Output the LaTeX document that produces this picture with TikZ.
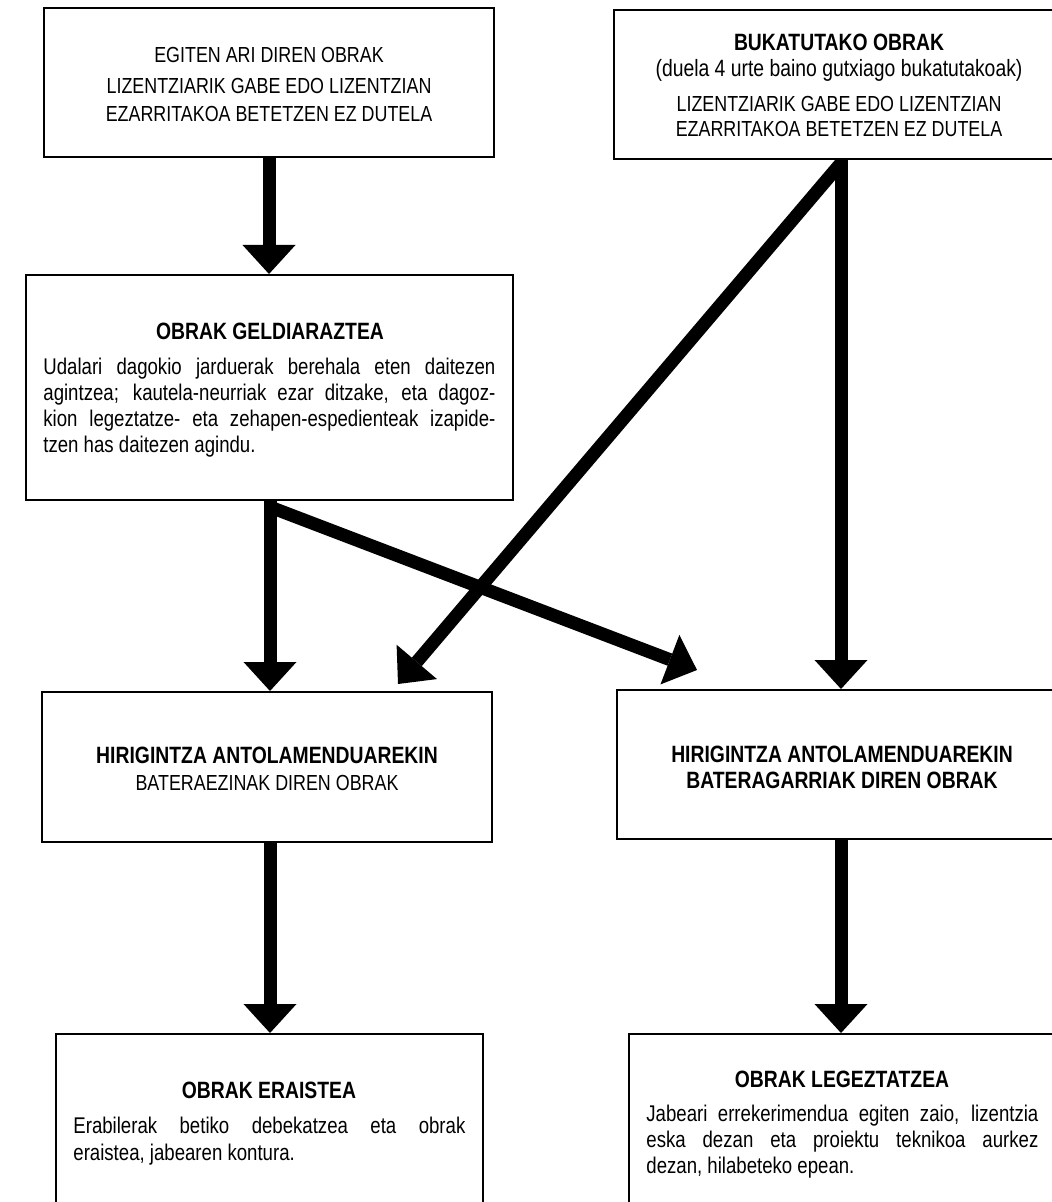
\documentclass[tikz,border=0pt]{standalone}
\usepackage{fontspec}
\setmainfont{Liberation Sans}[FakeStretch=0.82]
\usetikzlibrary{arrows.meta,calc}
\newcommand\upfont{\fontsize{10.9pt}{12pt}\selectfont}
\newcommand\hdfont{\bfseries\fontsize{11.8pt}{13pt}\selectfont}
\newcommand\bdfont{\fontsize{11.35pt}{13pt}\selectfont}
\newcommand\smfont{\fontsize{11.8pt}{13pt}\selectfont}

\begin{document}
\begin{tikzpicture}[x=0.5pt,y=-0.5pt,
  box/.style={draw, line width=1pt, fill=white, inner sep=0pt},
  flow/.style={line width=6.5pt, -{Triangle[width=26.5pt,length=14.5pt,line width=0pt]}},
  up/.style={font=\upfont, anchor=base, inner sep=0pt},
  sm/.style={font=\smfont, anchor=base, inner sep=0pt},
  hd/.style={font=\hdfont, anchor=base, inner sep=0pt},
  bd/.style={font=\bdfont, anchor=base west, inner sep=0pt}]
\useasboundingbox (0,0) rectangle (1052,1202);
\clip (0,0) rectangle (1052,1202);

% boxes
\node[box, minimum width=225pt,   minimum height=74.5pt]  (A) at (269,82.5) {};
\node[box, minimum width=243.5pt, minimum height=112.5pt] (B) at (269.5,387.5) {};
\node[box, minimum width=227pt,   minimum height=74.5pt]  (C) at (841,84.5) {};
\node[box, minimum width=225pt,   minimum height=75pt]    (D) at (267,767) {};
\node[box, minimum width=224pt,   minimum height=74.5pt]  (E) at (841,764.5) {};
\node[box, minimum width=213.5pt, minimum height=98pt]    (F) at (269.5,1132) {};
\node[box, minimum width=213pt,   minimum height=98pt]    (G) at (842,1132) {};

% texts: works in progress
\node[up] (a1) at (269,63)  {EGITEN ARI DIREN OBRAK};
\node[up] (a2) at (269,94)  {LIZENTZIARIK GABE EDO LIZENTZIAN};
\node[up] (a3) at (269,122) {EZARRITAKOA BETETZEN EZ DUTELA};

% finished works
\node[hd] (c1) at (839,51)  {BUKATUTAKO OBRAK};
\node[sm] (c2) at (839,77)  {(duela 4 urte baino gutxiago bukatutakoak)};
\node[up] (c3) at (839,112) {LIZENTZIARIK GABE EDO LIZENTZIAN};
\node[up] (c4) at (839,137) {EZARRITAKOA BETETZEN EZ DUTELA};

% stopping the works
\node[hd] (b0) at (270,340) {OBRAK GELDIARAZTEA};
\node[bd] (b1) at (43,375) {\makebox[226pt][s]{Udalari dagokio jarduerak berehala eten daitezen}};
\node[bd] (b2) at (43,401) {\makebox[226pt][s]{agintzea; kautela-neurriak ezar ditzake, eta dagoz-}};
\node[bd] (b3) at (43,427) {\makebox[226pt][s]{kion legeztatze- eta zehapen-espedienteak izapide-}};
\node[bd] (b4) at (43,453) {tzen has daitezen agindu.};

% incompatible / compatible
\node[hd] (d1) at (267,763) {HIRIGINTZA ANTOLAMENDUAREKIN};
\node[up] (d2) at (267,790) {BATERAEZINAK DIREN OBRAK};
\node[hd] (e1) at (842,762) {HIRIGINTZA ANTOLAMENDUAREKIN};
\node[hd] (e2) at (842,788) {BATERAGARRIAK DIREN OBRAK};

% demolition
\node[hd] (f0) at (269,1098) {OBRAK ERAISTEA};
\node[bd] (f1) at (73,1133) {\makebox[196pt][s]{Erabilerak betiko debekatzea eta obrak}};
\node[bd] (f2) at (73,1160) {eraistea, jabearen kontura.};

% legalisation
\node[hd] (g0) at (842,1087) {OBRAK LEGEZTATZEA};
\node[bd] (g1) at (646,1121) {\makebox[196pt][s]{Jabeari errekerimendua egiten zaio, lizentzia}};
\node[bd] (g2) at (646,1147) {\makebox[196pt][s]{eska dezan eta proiektu teknikoa aurkez}};
\node[bd] (g3) at (646,1173) {dezan, hilabeteko epean.};

% connectors
\coordinate (bsplit) at (270,507);
\coordinate (csplit) at (841,163);
\coordinate (dtip) at (398,684);
\coordinate (etip) at (697,670);

\draw[flow] (A.south) -- (A.south |- B.north);
\draw[flow] (bsplit |- B.south) -- (bsplit |- D.north);
\draw[flow] (bsplit) -- (etip);
\draw[flow] (C.south) -- (C.south |- E.north);
\draw[flow] (csplit) -- (dtip);
\draw[flow] (bsplit |- D.south) -- (bsplit |- F.north);
\draw[flow] (E.south) -- (E.south |- G.north);
\end{tikzpicture}
\end{document}
